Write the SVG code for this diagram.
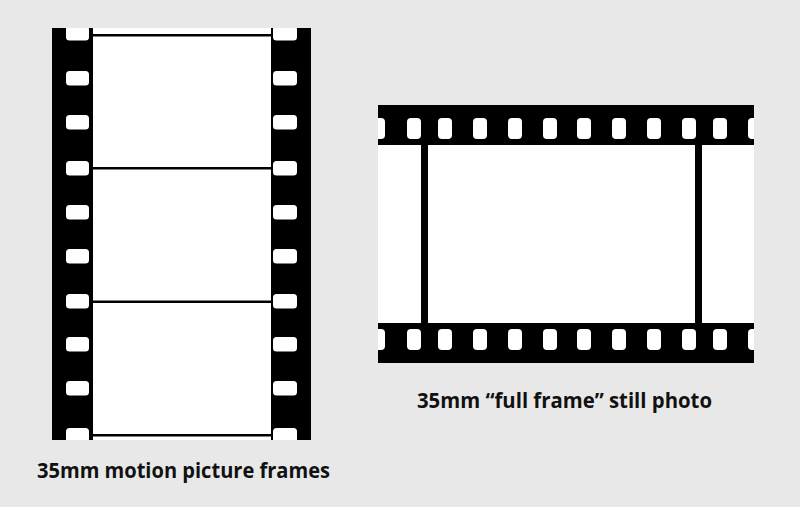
<svg xmlns="http://www.w3.org/2000/svg" width="800" height="507" viewBox="0 0 800 507">
<defs>
<style>
.film{fill:#000}
.white{fill:#fff}
.hole{fill:#fff}
.lbl{font-family:"Open Sans","Liberation Sans",sans-serif;font-weight:700;font-size:21px;fill:#111}
</style>
<clipPath id="clipL"><rect x="52" y="28" width="259" height="412"/></clipPath>
<clipPath id="clipR"><rect x="378" y="105" width="376" height="258"/></clipPath>
</defs>
<rect width="800" height="507" fill="#e8e8e8"/>
<g id="motion-strip" clip-path="url(#clipL)">
<rect class="film" x="52" y="28" width="259" height="412"/>
<rect class="white" x="93" y="28" width="178" height="412"/>
<rect class="film" x="93" y="34" width="178" height="2.5"/>
<rect class="film" x="93" y="167" width="178" height="2.5"/>
<rect class="film" x="93" y="300.5" width="178" height="2.5"/>
<rect class="film" x="93" y="434" width="178" height="2.5"/>
<g id="left-holes">
<rect class="hole" x="66" y="26" width="23" height="14.5" rx="3.5"/>
<rect class="hole" x="66" y="71" width="23" height="14.5" rx="3.5"/>
<rect class="hole" x="66" y="115" width="23" height="14.5" rx="3.5"/>
<rect class="hole" x="66" y="161" width="23" height="14.5" rx="3.5"/>
<rect class="hole" x="66" y="205" width="23" height="14.5" rx="3.5"/>
<rect class="hole" x="66" y="249" width="23" height="14.5" rx="3.5"/>
<rect class="hole" x="66" y="294" width="23" height="14.5" rx="3.5"/>
<rect class="hole" x="66" y="337" width="23" height="14.5" rx="3.5"/>
<rect class="hole" x="66" y="381" width="23" height="14.5" rx="3.5"/>
<rect class="hole" x="66" y="428" width="23" height="14.5" rx="3.5"/>
</g>
<g id="right-holes">
<rect class="hole" x="273" y="26" width="24" height="14.5" rx="3.5"/>
<rect class="hole" x="273" y="71" width="24" height="14.5" rx="3.5"/>
<rect class="hole" x="273" y="115" width="24" height="14.5" rx="3.5"/>
<rect class="hole" x="273" y="161" width="24" height="14.5" rx="3.5"/>
<rect class="hole" x="273" y="205" width="24" height="14.5" rx="3.5"/>
<rect class="hole" x="273" y="249" width="24" height="14.5" rx="3.5"/>
<rect class="hole" x="273" y="294" width="24" height="14.5" rx="3.5"/>
<rect class="hole" x="273" y="337" width="24" height="14.5" rx="3.5"/>
<rect class="hole" x="273" y="381" width="24" height="14.5" rx="3.5"/>
<rect class="hole" x="273" y="428" width="24" height="14.5" rx="3.5"/>
</g>
</g>
<g id="still-strip" clip-path="url(#clipR)">
<rect class="film" x="378" y="105" width="376" height="258"/>
<rect class="white" x="378" y="145" width="376" height="178"/>
<rect class="film" x="421" y="145" width="7" height="178"/>
<rect class="film" x="695" y="145" width="7" height="178"/>
<g id="top-holes">
<rect class="hole" x="371" y="118" width="14" height="21" rx="4"/>
<rect class="hole" x="407" y="118" width="14" height="21" rx="4"/>
<rect class="hole" x="438" y="118" width="14" height="21" rx="4"/>
<rect class="hole" x="473" y="118" width="14" height="21" rx="4"/>
<rect class="hole" x="508" y="118" width="14" height="21" rx="4"/>
<rect class="hole" x="543" y="118" width="14" height="21" rx="4"/>
<rect class="hole" x="577" y="118" width="14" height="21" rx="4"/>
<rect class="hole" x="612" y="118" width="14" height="21" rx="4"/>
<rect class="hole" x="647" y="118" width="14" height="21" rx="4"/>
<rect class="hole" x="682" y="118" width="14" height="21" rx="4"/>
<rect class="hole" x="713" y="118" width="14" height="21" rx="4"/>
<rect class="hole" x="748" y="118" width="14" height="21" rx="4"/>
</g>
<g id="bottom-holes">
<rect class="hole" x="371" y="329" width="14" height="21" rx="4"/>
<rect class="hole" x="407" y="329" width="14" height="21" rx="4"/>
<rect class="hole" x="438" y="329" width="14" height="21" rx="4"/>
<rect class="hole" x="473" y="329" width="14" height="21" rx="4"/>
<rect class="hole" x="508" y="329" width="14" height="21" rx="4"/>
<rect class="hole" x="543" y="329" width="14" height="21" rx="4"/>
<rect class="hole" x="577" y="329" width="14" height="21" rx="4"/>
<rect class="hole" x="612" y="329" width="14" height="21" rx="4"/>
<rect class="hole" x="647" y="329" width="14" height="21" rx="4"/>
<rect class="hole" x="682" y="329" width="14" height="21" rx="4"/>
<rect class="hole" x="713" y="329" width="14" height="21" rx="4"/>
<rect class="hole" x="748" y="329" width="14" height="21" rx="4"/>
</g>
</g>
<g id="labels">
<text id="label-motion" class="lbl" x="37" y="478" textLength="293" lengthAdjust="spacingAndGlyphs">35mm motion picture frames</text>
<text id="label-still" class="lbl" x="417" y="408" textLength="295" lengthAdjust="spacingAndGlyphs">35mm “full frame” still photo</text>
</g>
</svg>
